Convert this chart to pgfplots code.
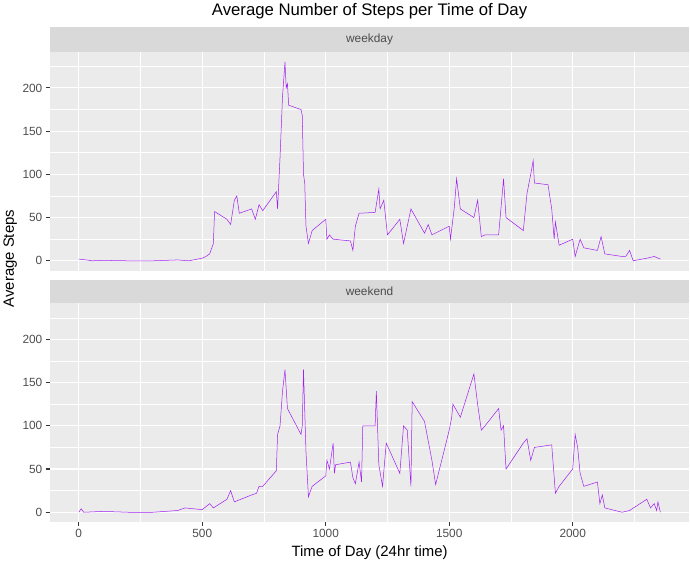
\documentclass[border=0pt]{standalone}
\usepackage{pgfplots}
\pgfplotsset{compat=1.18}
\usepackage{fontspec}
\setmainfont{Liberation Sans}
\definecolor{panel}{HTML}{EBEBEB}
\definecolor{strip}{HTML}{D9D9D9}
\definecolor{ticktxt}{HTML}{4D4D4D}
\definecolor{tickln}{HTML}{333333}
\definecolor{ln}{HTML}{A020F0}
\pgfplotsset{
 fac/.style={scale only axis, width=631pt, height=216pt,
  xmin=-117.75, xmax=2472.75, ymin=-11.5, ymax=241.9,
  axis background/.style={fill=panel},
  axis line style={draw=none},
  grid=both, major grid style={white, line width=1.07pt}, minor grid style={white, line width=0.53pt},
  xtick={0,500,1000,1500,2000}, minor xtick={250,750,1250,1750,2250},
  ytick={0,50,100,150,200}, minor ytick={25,75,125,175,225},
  tick align=outside, tick pos=left, major tick length=3.7pt, minor tick length=0pt,
  tick style={tickln, line width=1.07pt},
  ticklabel style={font=\fontsize{11.7}{14}\selectfont, text=ticktxt},
  /pgf/number format/assume math mode=true,
  /pgf/number format/set thousands separator={},
  scaled ticks=false, clip=false,
 },
}
\begin{document}
\begin{tikzpicture}
\begin{axis}[fac, at={(0,248pt)}, xticklabels={}, xmajorticks=false, name=top]
\addplot[ln, line width=0.5pt] coordinates {(0,2)(30,1)(55,0)(100,0.5)(200,0)(300,0)(400,1)(445,0)(500,3)(515,5)(530,8)(545,20)(550,57)(600,48)(615,42)(630,70)(640,75)(650,55)(700,60)(715,48)(730,65)(745,58)(800,80)(805,60)(815,120)(825,190)(830,210)(835,230)(840,200)(845,205)(850,180)(900,175)(905,168)(910,100)(915,90)(920,40)(930,20)(945,35)(1000,48)(1005,25)(1015,30)(1030,25)(1100,23)(1110,12)(1120,40)(1135,55)(1200,56)(1215,83)(1220,60)(1235,70)(1250,30)(1300,48)(1315,20)(1330,40)(1345,60)(1400,32)(1415,42)(1430,30)(1500,40)(1505,25)(1520,60)(1530,95)(1545,60)(1600,50)(1615,70)(1630,28)(1645,30)(1700,30)(1720,95)(1730,50)(1800,35)(1815,78)(1830,100)(1840,116)(1845,90)(1900,88)(1915,60)(1925,25)(1930,45)(1945,18)(2000,25)(2010,5)(2015,10)(2030,25)(2045,15)(2100,12)(2115,28)(2130,8)(2200,5)(2215,5)(2230,12)(2245,0)(2300,3)(2330,5)(2355,2)};
\end{axis}
\fill[strip] (top.north west) rectangle ([yshift=24pt]top.north east);
\node[font=\fontsize{11.7}{14}\selectfont, text=ticktxt] at ([yshift=12pt]top.north) {weekday};
\begin{axis}[fac, at={(0,0)}, name=bot]
\addplot[ln, line width=0.5pt] coordinates {(0,0)(10,4)(20,0)(100,1)(200,0)(300,0)(400,2)(430,5)(500,3)(530,10)(545,5)(600,15)(615,25)(630,12)(700,20)(720,22)(730,30)(745,30)(800,48)(805,90)(815,100)(825,140)(835,165)(845,120)(900,90)(905,100)(910,165)(920,70)(930,18)(945,30)(1000,42)(1005,60)(1015,50)(1030,80)(1035,45)(1040,55)(1100,58)(1110,40)(1120,33)(1135,58)(1145,35)(1150,100)(1200,100)(1205,140)(1215,55)(1230,30)(1245,80)(1300,45)(1315,100)(1330,95)(1345,30)(1350,128)(1400,105)(1430,60)(1445,32)(1500,95)(1510,110)(1515,125)(1545,110)(1600,160)(1615,125)(1630,95)(1645,100)(1700,120)(1710,95)(1720,100)(1730,50)(1800,80)(1815,85)(1830,60)(1845,75)(1915,78)(1930,22)(1945,30)(2000,50)(2010,90)(2020,75)(2030,45)(2045,30)(2100,35)(2110,10)(2120,20)(2130,5)(2200,0)(2230,2)(2300,15)(2315,5)(2330,10)(2340,2)(2345,12)(2355,0)};
\end{axis}
\fill[strip] (bot.north west) rectangle ([yshift=23pt]bot.north east);
\node[font=\fontsize{11.7}{14}\selectfont, text=ticktxt] at ([yshift=11.5pt]bot.north) {weekend};
\node[font=\fontsize{14.7}{17}\selectfont, rotate=90] at (-39pt,260pt) {Average Steps};
\node[font=\fontsize{14.7}{17}\selectfont] at (315.5pt,-30pt) {Time of Day (24hr time)};
\node[font=\fontsize{16.5}{20}\selectfont] at (315.5pt,504pt) {Average Number of Steps per Time of Day};
\end{tikzpicture}
\end{document}
